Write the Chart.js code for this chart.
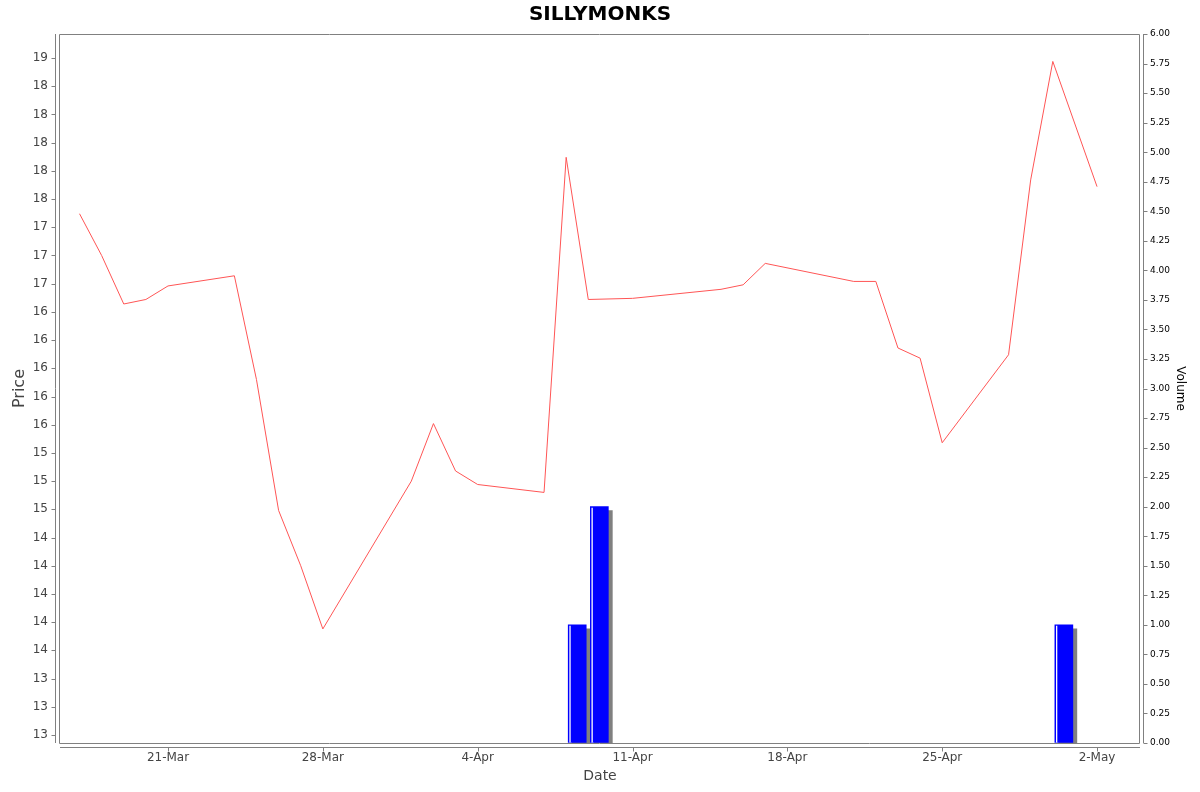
<!DOCTYPE html>
<html>
<head>
<meta charset="utf-8">
<script src="https://cdn.jsdelivr.net/npm/chart.js@4.4.1/dist/chart.umd.min.js"></script>
<style>
  html, body { margin: 0; padding: 0; background: #fff; }
  #wrap { width: 1200px; height: 792px; }
</style>
</head>
<body>
<div id="wrap"><canvas id="chart" width="1200" height="792"></canvas></div>
<script>
// trading days, 2025
var dates = [
    '2025-03-17', '2025-03-18', '2025-03-19', '2025-03-20', '2025-03-21',
    '2025-03-24', '2025-03-25', '2025-03-26', '2025-03-27', '2025-03-28',
    '2025-04-01', '2025-04-02', '2025-04-03', '2025-04-04', '2025-04-07',
    '2025-04-08', '2025-04-09', '2025-04-11', '2025-04-15', '2025-04-16',
    '2025-04-17', '2025-04-21', '2025-04-22', '2025-04-23', '2025-04-24',
    '2025-04-25', '2025-04-28', '2025-04-29', '2025-04-30', '2025-05-02'
];
var prices = [
    17.37, 17.00, 16.57, 16.61, 16.73,
    16.82, 15.90, 14.74, 14.25, 13.69,
    15.00, 15.51, 15.09, 14.97, 14.90,
    17.87, 16.61, 16.62, 16.70, 16.74,
    16.93, 16.77, 16.77, 16.18, 16.09,
    15.34, 16.12, 17.67, 18.72, 17.61
];
var volumes = [
    0, 0, 0, 0, 0,
    0, 0, 0, 0, 0,
    0, 0, 0, 0, 0,
    1, 2, 0, 0, 0,
    0, 0, 0, 0, 0,
    0, 0, 0, 1, 0
];
var xTickDates = ['2025-03-21', '2025-03-28', '2025-04-04', '2025-04-11', '2025-04-18', '2025-04-25', '2025-05-02'];
var priceTicks = [12.75, 13, 13.25, 13.5, 13.75, 14, 14.25, 14.5, 14.75, 15, 15.25, 15.5, 15.75,
                  16, 16.25, 16.5, 16.75, 17, 17.25, 17.5, 17.75, 18, 18.25, 18.5, 18.75];
var priceTickLabels = ['13', '13', '13', '14', '14', '14', '14', '14', '15', '15', '15', '16', '16',
                       '16', '16', '16', '17', '17', '17', '18', '18', '18', '18', '18', '19'];
var monthNames = ['Jan', 'Feb', 'Mar', 'Apr', 'May', 'Jun', 'Jul', 'Aug', 'Sep', 'Oct', 'Nov', 'Dec'];

function dayNum(s) {
    var p = s.split('-');
    return Date.UTC(+p[0], +p[1] - 1, +p[2]) / 86400000;
}
function dayLabel(d) {
    var dt = new Date(Math.round(d) * 86400000);
    return dt.getUTCDate() + '-' + monthNames[dt.getUTCMonth()];
}

var priceData = dates.map(function(d, i) { return {x: dayNum(d), y: prices[i]}; });
// each volume bar covers its whole trading day; empty days drawn as nothing
var volumeData = dates.map(function(d, i) {
    return {x: dayNum(d) + 0.5, y: volumes[i] > 0 ? volumes[i] : null};
});

var pxPerDay = 22.12;
var xMin = dayNum('2025-03-21') - 108 / pxPerDay;
var xMax = xMin + 1080 / pxPerDay;

var axisColor = '#808080';
var gap = 4;

// jfreechart-like frame: plot outline, offset axis lines, tick marks
var framePlugin = {
    id: 'frame',
    afterDraw: function(chart) {
        var ctx = chart.ctx, a = chart.chartArea;
        ctx.save();
        ctx.strokeStyle = axisColor;
        ctx.lineWidth = 1;
        ctx.beginPath();
        ctx.rect(Math.round(a.left) - 0.5, Math.round(a.top) + 0.5,
                 Math.round(a.right - a.left), Math.round(a.bottom - a.top));
        // left axis
        var lx = Math.round(a.left) - gap - 0.5;
        ctx.moveTo(lx, a.top); ctx.lineTo(lx, a.bottom);
        chart.scales.yPrice.ticks.forEach(function(t) {
            var y = Math.round(chart.scales.yPrice.getPixelForValue(t.value)) + 0.5;
            ctx.moveTo(lx - 4, y); ctx.lineTo(lx, y);
        });
        // right axis
        var rx = Math.round(a.right) + gap - 0.5;
        ctx.moveTo(rx, a.top); ctx.lineTo(rx, a.bottom);
        chart.scales.yVol.ticks.forEach(function(t) {
            var y = Math.round(chart.scales.yVol.getPixelForValue(t.value)) + 0.5;
            ctx.moveTo(rx, y); ctx.lineTo(rx + 4, y);
        });
        // bottom axis
        var by = Math.round(a.bottom) + gap + 0.5;
        ctx.moveTo(a.left, by); ctx.lineTo(a.right, by);
        chart.scales.x.ticks.forEach(function(t) {
            var x = Math.round(chart.scales.x.getPixelForValue(t.value)) + 0.5;
            ctx.moveTo(x, by); ctx.lineTo(x, by + 4);
        });
        ctx.stroke();
        ctx.restore();
    }
};

// shadow and left highlight on volume bars
var barPlugin = {
    id: 'barLook',
    beforeDatasetDraw: function(chart, args) {
        if (args.meta.type !== 'bar') return;
        var ctx = chart.ctx;
        ctx.save();
        ctx.shadowColor = '#808080';
        ctx.shadowOffsetX = 4;
        ctx.shadowOffsetY = 4;
        ctx.shadowBlur = 0;
    },
    afterDatasetDraw: function(chart, args) {
        if (args.meta.type !== 'bar') return;
        var ctx = chart.ctx;
        ctx.restore();
        ctx.save();
        ctx.strokeStyle = '#ffffff';
        ctx.lineWidth = 1.3;
        args.meta.data.forEach(function(el) {
            if (el.skip || isNaN(el.y) || Math.abs(el.base - el.y) < 1) return;
            var left = el.x - el.width / 2;
            ctx.beginPath();
            ctx.moveTo(left + 1.8, el.y + 1);
            ctx.lineTo(left + 1.8, el.base);
            ctx.stroke();
        });
        ctx.restore();
    }
};

var ctx = document.getElementById('chart').getContext('2d');
var chart = new Chart(ctx, {
    type: 'bar',
    data: {
        datasets: [{
            type: 'line',
            label: 'Price',
            data: priceData,
            yAxisID: 'yPrice',
            borderColor: 'rgb(255,85,85)',
            borderWidth: 1,
            pointRadius: 0,
            tension: 0,
            fill: false,
            order: 0
        }, {
            type: 'bar',
            label: 'Volume',
            data: volumeData,
            yAxisID: 'yVol',
            backgroundColor: '#0000ff',
            borderWidth: 0,
            barThickness: 18,
            order: 1
        }]
    },
    plugins: [framePlugin, barPlugin],
    options: {
        responsive: false,
        animation: false,
        layout: { padding: 0 },
        plugins: {
            legend: { display: false },
            tooltip: { enabled: false },
            title: {
                display: true,
                text: 'SILLYMONKS',
                color: '#000',
                font: { family: 'DejaVu Sans', size: 20, weight: 'bold', lineHeight: 1.2 },
                padding: { top: 3, bottom: 7 }
            }
        },
        scales: {
            x: {
                type: 'linear',
                offset: false,
                min: xMin,
                max: xMax,
                afterBuildTicks: function(scale) {
                    scale.ticks = xTickDates.map(function(d) { return {value: dayNum(d)}; });
                },
                afterFit: function(scale) { scale.height = 49; },
                grid: { display: true, offset: false, drawOnChartArea: false, drawTicks: true, tickLength: 8, tickColor: 'rgba(0,0,0,0)' },
                border: { display: false },
                ticks: {
                    autoSkip: false,
                    maxRotation: 0,
                    padding: 0,
                    color: '#444',
                    font: { family: 'DejaVu Sans', size: 12 },
                    callback: function(v) { return dayLabel(v); }
                },
                title: {
                    display: true,
                    text: 'Date',
                    color: '#444',
                    font: { family: 'DejaVu Sans', size: 14, lineHeight: 1.2 },
                    padding: { top: 0, bottom: 7.6 }
                }
            },
            yPrice: {
                type: 'linear',
                position: 'left',
                min: 12.679,
                max: 18.963,
                afterBuildTicks: function(scale) {
                    scale.ticks = priceTicks.map(function(v) { return {value: v}; });
                },
                afterFit: function(scale) { scale.width = 60; },
                grid: { display: true, drawOnChartArea: false, drawTicks: true, tickLength: 8, tickColor: 'rgba(0,0,0,0)' },
                border: { display: false },
                ticks: {
                    autoSkip: false,
                    padding: 4,
                    color: '#444',
                    font: { family: 'DejaVu Sans', size: 12 },
                    callback: function(v, i) { return priceTickLabels[i]; }
                },
                title: {
                    display: true,
                    text: 'Price',
                    color: '#444',
                    font: { family: 'DejaVu Sans', size: 16, lineHeight: 1.2 },
                    padding: { top: 10.4, bottom: 0 }
                }
            },
            yVol: {
                type: 'linear',
                position: 'right',
                min: 0,
                max: 6,
                afterFit: function(scale) { scale.width = 60; },
                grid: { display: true, drawOnChartArea: false, drawTicks: true, tickLength: 8, tickColor: 'rgba(0,0,0,0)' },
                border: { display: false },
                ticks: {
                    autoSkip: false,
                    stepSize: 0.25,
                    padding: 2,
                    color: '#000',
                    font: { family: 'DejaVu Sans', size: 9 },
                    callback: function(v) { return v.toFixed(2); }
                },
                title: {
                    display: true,
                    text: 'Volume',
                    color: '#000',
                    font: { family: 'DejaVu Sans', size: 12, lineHeight: 1.2 },
                    padding: { top: 12.8, bottom: 0 }
                }
            }
        }
    }
});
</script>
</body>
</html>
